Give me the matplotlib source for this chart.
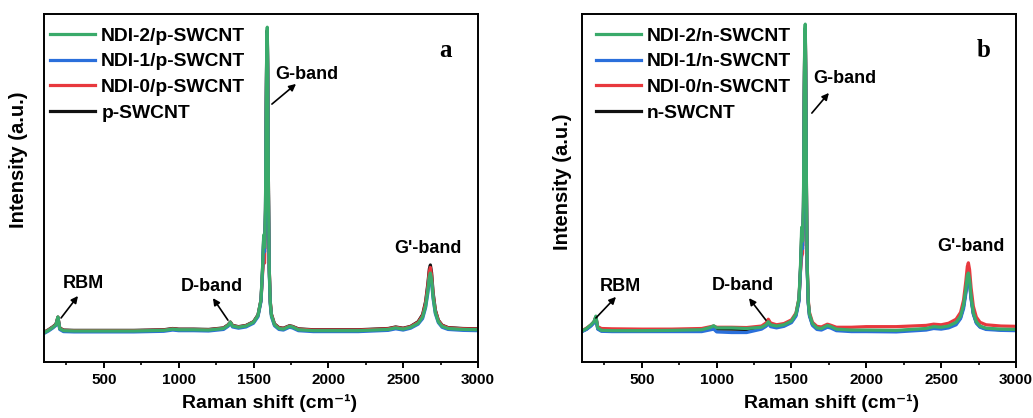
import matplotlib
matplotlib.use("Agg")
import matplotlib.pyplot as plt

# Raman spectra (normalised intensity, baseline ~ 0)
raman_shift = [100, 130, 160, 180, 193, 205, 230, 300, 500, 700, 900, 960, 980, 1000,
               1100, 1200, 1300, 1330, 1345, 1360, 1400, 1450, 1500, 1530, 1550, 1560,
               1568, 1574, 1580, 1585, 1589, 1592, 1595, 1600, 1605, 1612, 1620, 1640,
               1670, 1700, 1740, 1760, 1800, 1900, 2000, 2200, 2400, 2450, 2500, 2550,
               2600, 2630, 2650, 2665, 2675, 2682, 2690, 2700, 2715, 2735, 2760, 2800,
               2900, 3000]

# panel a : p-type
p_ndi2 = [-0.006, 0.002, 0.012, 0.020, 0.045, 0.008, 0.001, 0.000, 0.000, 0.000, 0.002, 0.006, 0.005, 0.004,
          0.004, 0.003, 0.008, 0.018, 0.028, 0.016, 0.012, 0.016, 0.028, 0.050, 0.100, 0.200,
          0.310, 0.270, 0.400, 0.750, 0.950, 0.980, 0.850, 0.450, 0.200, 0.090, 0.050, 0.020,
          0.008, 0.006, 0.015, 0.013, 0.004, 0.001, 0.001, 0.001, 0.005, 0.010, 0.006, 0.012,
          0.025, 0.045, 0.080, 0.130, 0.175, 0.187, 0.165, 0.110, 0.060, 0.030, 0.015, 0.008,
          0.005, 0.004]
p_ndi1 = [-0.008, 0.000, 0.010, 0.018, 0.040, 0.005, -0.002, -0.003, -0.003, -0.003, -0.001, 0.003, 0.002, 0.001,
          0.001, 0.000, 0.005, 0.015, 0.024, 0.013, 0.009, 0.013, 0.025, 0.046, 0.095, 0.190,
          0.290, 0.255, 0.380, 0.720, 0.930, 0.960, 0.830, 0.430, 0.190, 0.085, 0.046, 0.017,
          0.005, 0.003, 0.012, 0.010, 0.001, -0.002, -0.002, -0.002, 0.002, 0.007, 0.003, 0.009,
          0.022, 0.040, 0.075, 0.122, 0.165, 0.178, 0.158, 0.105, 0.056, 0.027, 0.012, 0.005,
          0.002, 0.001]
p_ndi0 = [-0.005, 0.003, 0.013, 0.021, 0.044, 0.009, 0.002, 0.001, 0.001, 0.001, 0.003, 0.007, 0.006, 0.005,
          0.005, 0.004, 0.009, 0.019, 0.028, 0.017, 0.013, 0.017, 0.029, 0.050, 0.098, 0.180,
          0.230, 0.219, 0.360, 0.720, 0.930, 0.960, 0.840, 0.450, 0.205, 0.095, 0.053, 0.022,
          0.010, 0.008, 0.016, 0.014, 0.006, 0.003, 0.003, 0.003, 0.007, 0.012, 0.008, 0.014,
          0.028, 0.050, 0.090, 0.145, 0.192, 0.205, 0.180, 0.120, 0.066, 0.034, 0.018, 0.010,
          0.007, 0.006]
p_swcnt = [-0.004, 0.004, 0.014, 0.022, 0.045, 0.010, 0.003, 0.002, 0.002, 0.002, 0.004, 0.008, 0.007, 0.006,
           0.006, 0.005, 0.010, 0.020, 0.029, 0.018, 0.014, 0.018, 0.030, 0.052, 0.100, 0.195,
           0.300, 0.265, 0.390, 0.740, 0.940, 0.970, 0.845, 0.450, 0.205, 0.095, 0.054, 0.023,
           0.011, 0.009, 0.017, 0.015, 0.007, 0.004, 0.004, 0.004, 0.008, 0.013, 0.009, 0.015,
           0.030, 0.053, 0.095, 0.152, 0.200, 0.213, 0.188, 0.125, 0.068, 0.035, 0.019, 0.011,
           0.008, 0.007]

# panel b : n-type
n_ndi2 = [0.000, 0.008, 0.020, 0.030, 0.048, 0.010, 0.002, 0.001, 0.001, 0.002, 0.004, 0.012, 0.017, 0.010,
          0.010, 0.008, 0.012, 0.020, 0.030, 0.020, 0.016, 0.020, 0.032, 0.055, 0.105, 0.210,
          0.335, 0.290, 0.420, 0.780, 0.970, 0.990, 0.860, 0.460, 0.210, 0.095, 0.055, 0.024,
          0.010, 0.008, 0.018, 0.015, 0.006, 0.003, 0.003, 0.002, 0.008, 0.014, 0.012, 0.016,
          0.028, 0.048, 0.085, 0.135, 0.178, 0.187, 0.165, 0.112, 0.060, 0.030, 0.016, 0.009,
          0.006, 0.005]
n_ndi1 = [-0.002, 0.005, 0.016, 0.026, 0.042, 0.006, -0.001, -0.002, -0.002, -0.002, -0.002, 0.004, 0.006, -0.003,
          -0.005, -0.005, 0.006, 0.015, 0.024, 0.014, 0.010, 0.015, 0.027, 0.048, 0.095, 0.195,
          0.284, 0.265, 0.390, 0.740, 0.940, 0.960, 0.830, 0.440, 0.195, 0.088, 0.048, 0.018,
          0.005, 0.003, 0.012, 0.010, 0.001, -0.002, -0.002, -0.003, 0.003, 0.008, 0.006, 0.010,
          0.020, 0.040, 0.072, 0.120, 0.160, 0.170, 0.152, 0.102, 0.054, 0.025, 0.012, 0.005,
          0.002, 0.001]
n_ndi0 = [0.001, 0.009, 0.020, 0.030, 0.046, 0.014, 0.008, 0.007, 0.006, 0.006, 0.008, 0.014, 0.016, 0.012,
          0.012, 0.011, 0.016, 0.026, 0.038, 0.026, 0.020, 0.024, 0.036, 0.058, 0.105, 0.190,
          0.240, 0.250, 0.380, 0.740, 0.950, 0.970, 0.850, 0.460, 0.215, 0.100, 0.060, 0.028,
          0.015, 0.013, 0.022, 0.019, 0.012, 0.012, 0.014, 0.014, 0.018, 0.022, 0.020, 0.025,
          0.038, 0.060, 0.100, 0.160, 0.208, 0.220, 0.198, 0.140, 0.080, 0.045, 0.028, 0.020,
          0.016, 0.015]
n_swcnt = [-0.001, 0.006, 0.018, 0.028, 0.045, 0.008, 0.001, 0.000, 0.000, 0.000, 0.002, 0.009, 0.012, 0.006,
           0.006, 0.005, 0.010, 0.018, 0.027, 0.017, 0.013, 0.018, 0.030, 0.052, 0.100, 0.200,
           0.310, 0.275, 0.400, 0.760, 0.955, 0.975, 0.845, 0.450, 0.205, 0.092, 0.052, 0.021,
           0.008, 0.006, 0.015, 0.013, 0.004, 0.001, 0.001, 0.000, 0.006, 0.011, 0.009, 0.013,
           0.025, 0.044, 0.080, 0.128, 0.170, 0.180, 0.160, 0.108, 0.057, 0.028, 0.014, 0.007,
           0.004, 0.003]

colors = ["#111111", "#e8383d", "#2a6fdb", "#3aaa6a"]   # SWCNT, NDI-0, NDI-1, NDI-2

plt.rcParams["font.family"] = ["Liberation Sans", "DejaVu Sans"]
plt.rcParams["font.weight"] = "bold"
plt.rcParams["axes.linewidth"] = 1.4

fig = plt.figure(figsize=(10.33, 4.18), dpi=100)
ax_a = fig.add_axes([0.0426, 0.134, 0.4201, 0.8325])
ax_b = fig.add_axes([0.5634, 0.134, 0.4201, 0.8325])


def draw_panel(ax, series, labels, letter, ann, ylab_pos, xlab_pos, leg_x):
    for ys, lab, c in zip(series, labels, colors):
        ax.plot(raman_shift, ys, color=c, lw=2.3, label=lab)
    ax.set_xlim(100, 3000)
    ax.set_ylim(-0.1, 1.0226)
    ax.set_yticks([])
    ax.set_xticks([500, 1000, 1500, 2000, 2500, 3000])
    ax.set_xticks([250, 750, 1250, 1750, 2250, 2750], minor=True)
    ax.tick_params(axis="x", which="major", length=4, width=1.4, labelsize=11, pad=4)
    ax.tick_params(axis="x", which="minor", length=2.5, width=1.2)
    ax.set_xlabel("Raman shift (cm\u207b\u00b9)", fontsize=14, fontweight="bold")
    ax.set_ylabel("Intensity (a.u.)", fontsize=14.5, fontweight="bold")
    ax.yaxis.set_label_coords(*ylab_pos)
    ax.xaxis.set_label_coords(*xlab_pos)

    h, l = ax.get_legend_handles_labels()
    ax.legend(h[::-1], l[::-1], loc="upper left", bbox_to_anchor=(leg_x, 0.962),
              frameon=False, handlelength=2.35, handletextpad=0.3,
              labelspacing=0.42, borderpad=0, borderaxespad=0,
              prop={"weight": "bold", "size": 13.9})

    ax.text(2786, 0.906, letter, family="Liberation Serif", fontsize=18, fontweight="bold",
            ha="center", va="center")
    for txt, tpos, head, tail in ann:
        ax.text(tpos[0], tpos[1], txt, fontsize=13, fontweight="bold", ha="center", va="center")
        if head is not None:
            ax.annotate("", xy=head, xytext=tail,
                        arrowprops=dict(arrowstyle="-|>", color="black", lw=1.2,
                                        mutation_scale=10, shrinkA=0, shrinkB=0))


ann_a = [("RBM", (360, 0.152), (327, 0.113), (214, 0.042)),
         ("D-band", (1222, 0.142), (1229, 0.106), (1329, 0.035)),
         ("G-band", (1857, 0.829), (1784, 0.797), (1623, 0.732)),
         ("G'-band", (2666, 0.265), None, None)]
ann_b = [("RBM", (354, 0.145), (327, 0.110), (193, 0.042)),
         ("D-band", (1176, 0.148), (1216, 0.106), (1329, 0.035)),
         ("G-band", (1857, 0.813), (1750, 0.768), (1636, 0.703)),
         ("G'-band", (2699, 0.271), None, None)]

draw_panel(ax_a, [p_swcnt, p_ndi0, p_ndi1, p_ndi2],
           ["p-SWCNT", "NDI-0/p-SWCNT", "NDI-1/p-SWCNT", "NDI-2/p-SWCNT"],
           "a", ann_a, (-0.037, 0.58), (0.52, -0.093), 0.014)
draw_panel(ax_b, [n_swcnt, n_ndi0, n_ndi1, n_ndi2],
           ["n-SWCNT", "NDI-0/n-SWCNT", "NDI-1/n-SWCNT", "NDI-2/n-SWCNT"],
           "b", ann_b, (-0.023, 0.517), (0.576, -0.093), 0.032)

fig.savefig("out.png", dpi=100)
